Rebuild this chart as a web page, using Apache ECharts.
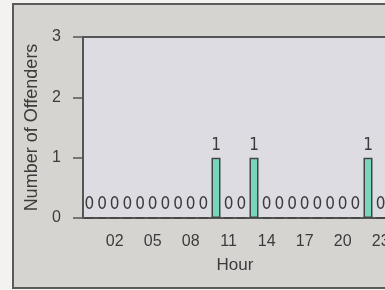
<!DOCTYPE html>
<html><head><meta charset="utf-8">
<script src="https://cdn.jsdelivr.net/npm/echarts@6/dist/echarts.min.js"></script>
<style>html,body{margin:0;padding:0;background:#f3f2f0;}#c{width:385px;height:290px;}</style>
</head><body><div id="c"></div>
<script>
const hours = ['00','01','02','03','04','05','06','07','08','09','10','11','12','13','14','15','16','17','18','19','20','21','22','23'];
const offenders = [0,0,0,0,0,0,0,0,0,0,1,0,0,1,0,0,0,0,0,0,0,0,1,0];
const yTicks = [0,1,2,3];
const xTitle = 'Hour';
const yTitle = 'Number of Offenders';

const txt = '#3c3c3c';
const ff = 'Liberation Sans';
const chart = echarts.init(document.getElementById('c'), null, {renderer:'canvas'});
const showIdx = (i) => i % 3 === 2;
chart.setOption({
  animation:false,
  backgroundColor:'transparent',
  graphic:[{type:'rect', z:-10, shape:{x:13,y:4,width:390,height:284}, style:{fill:'#d6d4d0', stroke:'#5a5a5a', lineWidth:2}}],
  grid:{left:83, top:37, width:304, height:181, outerBoundsMode:'none', containLabel:false, show:true, backgroundColor:'#dddce2', borderColor:'#555', borderWidth:2},
  xAxis:{type:'category', data:hours,
    name:xTitle, nameLocation:'middle', nameGap:39, nameTextStyle:{color:txt, fontSize:17, fontFamily:ff},
    axisLine:{lineStyle:{color:'#555', width:2}},
    axisTick:{alignWithLabel:true, interval:showIdx, length:9, lineStyle:{color:'#555', width:1.5}},
    axisLabel:{interval:showIdx, color:txt, fontSize:16, fontFamily:ff, margin:16, hideOverlap:false},
    splitLine:{show:false}},
  yAxis:{type:'value', min:yTicks[0], max:yTicks[yTicks.length-1], interval:1,
    name:yTitle, nameLocation:'middle', nameGap:37, nameTextStyle:{color:txt, fontSize:18, fontFamily:ff},
    axisLine:{show:true, lineStyle:{color:'#555', width:2}},
    axisTick:{show:true, length:10, lineStyle:{color:'#555', width:1.5}},
    axisLabel:{color:txt, fontSize:16, fontFamily:ff, margin:22},
    splitLine:{show:false}},
  series:[{type:'bar', data:offenders, barWidth:9,
    itemStyle:{color:'#74d6bb', borderColor:'#444', borderWidth:1.5},
    label:{show:true, position:'top', distance:4, color:txt, fontSize:17, fontFamily:'Liberation Sans Narrow, DejaVu Sans Condensed, Liberation Sans'}}]
});
</script></body></html>
